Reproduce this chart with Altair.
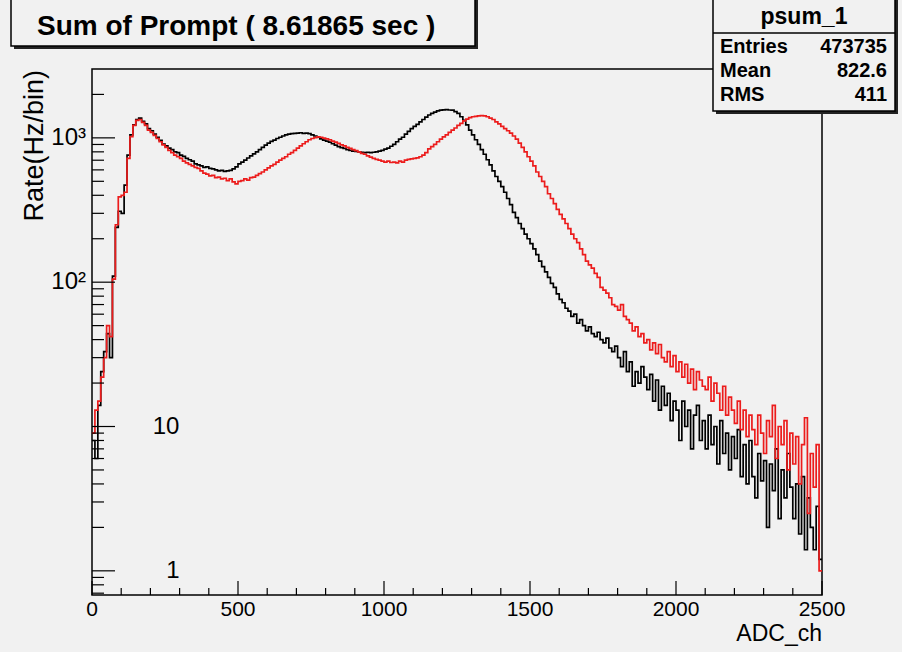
import altair as alt
import pandas as pd

# ---------------- data ----------------
BIN_WIDTH = 10
X_MAX = 2500

black_rate = [
    8, 6, 14, 24, 33, 44, 30, 110, 240, 310,
    300, 470, 760, 1050, 1230, 1340, 1370, 1300, 1250, 1160,
    1120, 1060, 1010, 960, 905, 880, 850, 830, 800, 790,
    760, 745, 720, 705, 690, 660, 650, 640, 625, 630,
    615, 610, 600, 590, 595, 585, 590, 595, 610, 630,
    660, 680, 700, 725, 750, 775, 800, 830, 860, 890,
    920, 945, 965, 990, 1010, 1030, 1050, 1060, 1070, 1075,
    1080, 1085, 1075, 1080, 1070, 1050, 1030, 1010, 985, 965,
    950, 935, 910, 890, 870, 855, 845, 830, 820, 810,
    805, 800, 795, 790, 795, 790, 795, 800, 810, 820,
    835, 850, 875, 900, 940, 980, 1010, 1060, 1110, 1160,
    1200, 1240, 1290, 1340, 1390, 1440, 1480, 1510, 1540, 1555,
    1565, 1570, 1560, 1555, 1520, 1480, 1400, 1320, 1230, 1130,
    1050, 970, 900, 830, 770, 705, 650, 590, 540, 500,
    460, 420, 380, 345, 305, 280, 255, 235, 215, 200,
    185, 170, 155, 140, 128, 118, 108, 98, 92, 83,
    76, 72, 66, 63, 58, 60, 52, 55, 50, 46,
    49, 44, 42, 45, 40, 38, 41, 35, 33, 36,
    30, 26, 33, 24, 28, 19, 24, 20, 26, 22,
    18, 23, 15, 21, 13, 19, 14, 17, 11, 15,
    13, 8, 15, 10, 13, 7, 12, 14, 8, 11,
    7, 12, 7.5, 10, 5.5, 11, 6.5, 9, 5, 8.5,
    6, 9.5, 4.5, 7.5, 4, 8, 4.5, 3.2, 6.5, 4.2,
    5.8, 2.0, 5.5, 3.6, 7, 2.3, 5, 3.2, 6.5, 3.8,
    2.3, 4, 1.8, 4.5, 1.4, 3.2, 2, 1.4, 2.8, 1.2,
]

red_rate = [
    9, 13, 15, 22, 30, 50, 42, 105, 250, 390,
    400, 420, 720, 1020, 1220, 1320, 1340, 1280, 1220, 1130,
    1090, 1040, 990, 940, 895, 860, 820, 790, 760, 740,
    720, 690, 670, 655, 640, 625, 615, 590, 570, 560,
    545, 550, 530, 535, 520, 525, 505, 520, 495, 480,
    500, 505, 520, 510, 530, 535, 550, 565, 580, 600,
    620, 640, 655, 680, 700, 720, 740, 770, 790, 820,
    850, 880, 910, 940, 970, 990, 1005, 1015, 1010, 995,
    985, 970, 950, 935, 915, 895, 880, 860, 845, 830,
    815, 800, 780, 770, 750, 735, 720, 710, 700, 690,
    680, 690, 675, 680, 670, 690, 680, 700, 710, 715,
    720, 727, 740, 760, 790, 840, 870, 900, 940, 980,
    1015, 1050, 1090, 1130, 1170, 1220, 1260, 1310, 1350, 1380,
    1400, 1410, 1420, 1425, 1420, 1400, 1370, 1340, 1290, 1250,
    1200, 1160, 1120, 1080, 1030, 980, 920, 860, 800, 740,
    690, 640, 580, 540, 500, 460, 410, 380, 350, 320,
    295, 275, 255, 235, 215, 200, 188, 170, 155, 140,
    132, 125, 115, 108, 92, 88, 84, 78, 70, 68,
    64, 70, 58, 55, 52, 46, 49, 42, 44, 38,
    40, 34, 38, 32, 37, 30, 28, 33, 26, 31,
    24, 28, 22, 27, 20, 25, 18, 24, 21, 19,
    18, 22, 15, 20, 17, 13, 19, 12, 16, 13,
    10.5, 15, 9.5, 13, 8.5, 12, 9.5, 7.5, 12, 9,
    6.5, 11, 8.5, 14, 6, 10, 7.5, 11, 5, 9,
    5.5, 8.5, 4, 7.5, 11.5, 2.5, 6.5, 3.8, 7.5, 1.0,
]

x_tick_labels = [0, 500, 1000, 1500, 2000, 2500]
x_minor_ticks = [v for v in range(100, 2500, 100) if v % 500 != 0]
y_major_ticks = [1, 10, 100, 1000]
y_minor_ticks = [0.7, 0.8, 0.9] + [m * d for d in (1, 10, 100) for m in range(2, 10)] + [2000]

title_text = "Sum of Prompt ( 8.61865 sec )"
stats_name = "psum_1"
stats_rows = [("Entries", "473735"), ("Mean", "822.6"), ("RMS", "411")]

# ---------------- layout ----------------
W, H = 730, 526
BG = "#f1f1f1"
FONT = "Liberation Sans"


def hist_frame(rates):
    edges = [i * BIN_WIDTH for i in range(len(rates))] + [X_MAX]
    vals = list(rates) + [rates[-1]]
    return pd.DataFrame({"adc": edges, "rate": vals})


xs = alt.Scale(domain=[0, X_MAX], nice=False, zero=False)
ys = alt.Scale(type="log", domain=[0.68, 3000], nice=False)

black_line = alt.Chart(hist_frame(black_rate)).mark_line(
    interpolate="step-after", color="black", strokeWidth=1.7, clip=True
).encode(x=alt.X("adc:Q", scale=xs, axis=None),
         y=alt.Y("rate:Q", scale=ys, axis=None))

red_line = alt.Chart(hist_frame(red_rate)).mark_line(
    interpolate="step-after", color="#ec1c1c", strokeWidth=1.7, clip=True
).encode(x=alt.X("adc:Q", scale=xs, axis=None),
         y=alt.Y("rate:Q", scale=ys, axis=None))

# custom inward ticks
xmaj = alt.Chart(pd.DataFrame({"v": x_tick_labels})).mark_rule(color="black", strokeWidth=1.2).encode(
    x=alt.X("v:Q", scale=xs, axis=None), y=alt.value(H), y2=alt.value(H - 14))
xmin = alt.Chart(pd.DataFrame({"v": x_minor_ticks})).mark_rule(color="black", strokeWidth=1.2).encode(
    x=alt.X("v:Q", scale=xs, axis=None), y=alt.value(H), y2=alt.value(H - 7))
ymaj = alt.Chart(pd.DataFrame({"v": y_major_ticks})).mark_rule(color="black", strokeWidth=1.2).encode(
    y=alt.Y("v:Q", scale=ys, axis=None), x=alt.value(0), x2=alt.value(23))
ymin = alt.Chart(pd.DataFrame({"v": y_minor_ticks})).mark_rule(color="black", strokeWidth=1.2).encode(
    y=alt.Y("v:Q", scale=ys, axis=None), x=alt.value(0), x2=alt.value(12))

# x tick labels
x_lab = alt.Chart(pd.DataFrame({"v": x_tick_labels, "t": [str(v) for v in x_tick_labels]})).mark_text(
    align="center", baseline="top", font=FONT, fontSize=21, color="black"
).encode(x=alt.X("v:Q", scale=xs, axis=None), y=alt.value(H + 4), text="t:N")

# y labels (ROOT style placement)
exp_lab = alt.Chart(pd.DataFrame({"v": [1000, 100], "t": ["10³", "10²"]})).mark_text(
    align="right", baseline="middle", font=FONT, fontSize=24, color="black"
).encode(y=alt.Y("v:Q", scale=ys, axis=None), x=alt.value(-6), text="t:N")
ten_lab = alt.Chart(pd.DataFrame({"v": [10], "t": ["10"]})).mark_text(
    align="center", baseline="middle", font=FONT, fontSize=24, color="black"
).encode(y=alt.Y("v:Q", scale=ys, axis=None), x=alt.value(74), text="t:N")
one_lab = alt.Chart(pd.DataFrame({"v": [1], "t": ["1"]})).mark_text(
    align="center", baseline="middle", font=FONT, fontSize=24, color="black"
).encode(y=alt.Y("v:Q", scale=ys, axis=None), x=alt.value(81), text="t:N")

one = pd.DataFrame({"a": [0]})

y_title = alt.Chart(one).mark_text(
    text="Rate(Hz/bin)", angle=270, align="right", baseline="middle",
    font=FONT, fontSize=27, color="black"
).encode(x=alt.value(-57), y=alt.value(1))

x_title = alt.Chart(one).mark_text(
    text="ADC_ch", align="right", baseline="alphabetic",
    font=FONT, fontSize=23, color="black"
).encode(x=alt.value(W), y=alt.value(572))

# title box
tb_shadow = alt.Chart(one).mark_rect(color="#222222").encode(
    x=alt.value(-78), x2=alt.value(386), y=alt.value(-80), y2=alt.value(-20))
tb_box = alt.Chart(one).mark_rect(fill=BG, stroke="black", strokeWidth=1.5).encode(
    x=alt.value(-81), x2=alt.value(383), y=alt.value(-80), y2=alt.value(-23))
tb_text = alt.Chart(one).mark_text(
    text=title_text, align="left", baseline="alphabetic",
    font=FONT, fontSize=28, fontWeight="bold", color="black"
).encode(x=alt.value(-55), y=alt.value(-34))

# stats box
SB_L, SB_R, SB_B = 621, 803, 42
sb_shadow = alt.Chart(one).mark_rect(color="#222222").encode(
    x=alt.value(SB_L + 3), x2=alt.value(SB_R + 3), y=alt.value(-80), y2=alt.value(SB_B + 3))
sb_box = alt.Chart(one).mark_rect(fill=BG, stroke="black", strokeWidth=1.5).encode(
    x=alt.value(SB_L), x2=alt.value(SB_R), y=alt.value(-80), y2=alt.value(SB_B))
sb_sep = alt.Chart(one).mark_rule(color="black", strokeWidth=1.5).encode(
    x=alt.value(SB_L), x2=alt.value(SB_R), y=alt.value(-36))
sb_head = alt.Chart(one).mark_text(
    text=stats_name, align="center", baseline="alphabetic",
    font=FONT, fontSize=23, fontWeight="bold", color="black"
).encode(x=alt.value((SB_L + SB_R) / 2), y=alt.value(-45))

stat_layers = []
for i, (name, val) in enumerate(stats_rows):
    yb = -16 + i * 24
    stat_layers.append(alt.Chart(one).mark_text(
        text=name, align="left", baseline="alphabetic",
        font=FONT, fontSize=20, fontWeight="bold", color="black"
    ).encode(x=alt.value(SB_L + 7), y=alt.value(yb)))
    stat_layers.append(alt.Chart(one).mark_text(
        text=val, align="right", baseline="alphabetic",
        font=FONT, fontSize=20, fontWeight="bold", color="black"
    ).encode(x=alt.value(SB_R - 8), y=alt.value(yb)))

chart = alt.layer(
    black_line, red_line, xmaj, xmin, ymaj, ymin,
    x_lab, exp_lab, ten_lab, one_lab, y_title, x_title,
    tb_shadow, tb_box, tb_text,
    sb_shadow, sb_box, sb_sep, sb_head, *stat_layers
).properties(
    width=W, height=H,
    autosize=alt.AutoSizeParams(type="none"),
    padding={"left": 92, "top": 69, "right": 80, "bottom": 57},
    background=BG,
).configure_view(stroke="black", strokeWidth=1.5, fill=BG)

chart.save("out.html", embed_options={"renderer": "svg", "actions": False})
